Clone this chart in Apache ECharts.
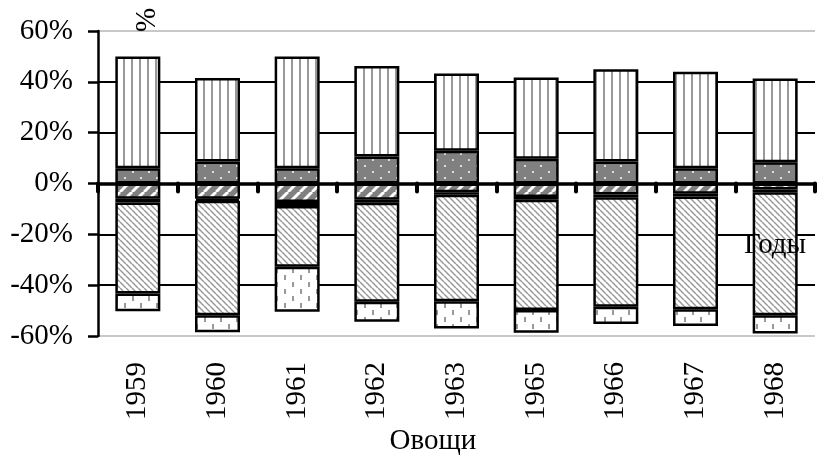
<!DOCTYPE html>
<html>
<head>
<meta charset="utf-8">
<script src="https://cdn.jsdelivr.net/npm/echarts@6/dist/echarts.min.js"></script>
<style>html,body{margin:0;padding:0;background:#fff}#c{width:817px;height:469px}</style>
</head>
<body>
<div id="c"></div>
<script>
// Data (percent)
const years = ['1959','1960','1961','1962','1963','1965','1966','1967','1968'];
const yTicks = [-60, -40, -20, 0, 20, 40, 60];
const posDotted  = [6.0, 8.7, 6.0, 10.6, 12.9, 9.7, 8.7, 6.0, 8.4];
const posStripes = [44.0, 32.8, 44.0, 35.6, 30.4, 32.0, 36.3, 38.0, 32.9];
const negGray    = [-6.0, -6.0, -7.3, -6.4, -3.4, -5.3, -4.3, -4.0, -2.4];
const negBlack   = [-1.5, -0.8, -1.6, -1.2, -1.0, -1.1, -1.1, -1.1, -1.0];
const negDiag    = [-35.8, -45.0, -23.9, -38.9, -41.9, -43.4, -43.1, -44.4, -48.4];
const negDash    = [-7.0, -6.7, -17.7, -7.9, -10.7, -8.9, -6.8, -6.6, -7.2];

function tile(w, h, draw) {
  const c = document.createElement('canvas');
  c.width = w; c.height = h;
  const g = c.getContext('2d');
  draw(g, w, h);
  return { image: c, repeat: 'repeat' };
}
const patStripes = tile(8, 8, (g) => { g.fillStyle = '#fff'; g.fillRect(0,0,8,8); g.fillStyle = '#999'; g.fillRect(3,0,2,8); });
const patDotted = tile(16, 12, (g) => { g.fillStyle = '#808080'; g.fillRect(0,0,16,12); g.fillStyle = '#ddd'; g.fillRect(4,3,2,2); g.fillRect(12,9,2,2); });
const patGray = tile(12, 12, (g) => {
  g.fillStyle = '#808080'; g.fillRect(0,0,12,12);
  g.strokeStyle = '#fff'; g.lineWidth = 3;
  for (const o of [-12, 0, 12]) { g.beginPath(); g.moveTo(o, 12); g.lineTo(o + 12, 0); g.stroke(); }
});
const patDiag = tile(6, 6, (g) => {
  g.fillStyle = '#fff'; g.fillRect(0,0,6,6);
  g.strokeStyle = '#999'; g.lineWidth = 1.5;
  for (const o of [-6, 0, 6]) { g.beginPath(); g.moveTo(o, 0); g.lineTo(o + 6, 6); g.stroke(); }
});
const patDash = tile(16, 14, (g) => { g.fillStyle = '#fff'; g.fillRect(0,0,16,14); g.fillStyle = '#999'; g.fillRect(4,2,2,5); g.fillRect(12,9,2,5); });

const fam = 'Liberation Serif';
function bar(name, data, color) {
  return {
    name, type: 'bar', stack: 'all', data, barWidth: 45, xAxisIndex: 0,
    itemStyle: { color, borderColor: '#000', borderWidth: 2.5 },
    emphasis: { disabled: true }
  };
}
function txt(text, x, y, rot) {
  return { type: 'text', x, y, rotation: rot || 0, z: 100,
    style: { text, fontFamily: fam, fontSize: 29, fill: '#000', align: 'center', verticalAlign: 'middle' } };
}

const chart = echarts.init(document.getElementById('c'));
chart.setOption({
  animation: false,
  grid: { left: 98, right: 2, top: 31, bottom: 133 },
  xAxis: [
    {
      type: 'category', data: years,
      axisLine: { onZero: true, lineStyle: { color: '#000', width: 3.5 } },
      axisTick: { show: true, inside: false, length: 8, lineStyle: { color: '#000', width: 4, cap: 'round' } },
      axisLabel: { show: false }
    },
    {
      type: 'category', data: years, position: 'bottom',
      axisLine: { show: false, onZero: false },
      axisTick: { show: false },
      axisLabel: { rotate: 90, margin: 26, color: '#000', fontSize: 29, fontFamily: fam }
    }
  ],
  yAxis: {
    type: 'value', min: yTicks[0], max: yTicks[yTicks.length - 1], interval: 20,
    axisLine: { show: true, lineStyle: { color: '#000', width: 2.5 } },
    axisTick: { show: true, inside: false, length: 10, lineStyle: { color: '#000', width: 2.5 } },
    axisLabel: { margin: 25, color: '#000', fontSize: 29, fontFamily: fam, formatter: (v) => v + '%' },
    splitLine: { show: true, lineStyle: { color: ['#c8c8c8', '#000', '#000', '#000', '#000', '#000', '#c8c8c8'], width: 2 } }
  },
  series: [
    bar('dotted', posDotted, patDotted),
    bar('stripes', posStripes, patStripes),
    bar('gray', negGray, patGray),
    bar('black', negBlack, '#000'),
    bar('diag', negDiag, patDiag),
    bar('dash', negDash, patDash)
  ],
  graphic: [
    txt('%', 147, 20, Math.PI / 2),
    txt('Годы', 775, 245),
    txt('Овощи', 433, 441)
  ]
});
</script>
</body>
</html>
